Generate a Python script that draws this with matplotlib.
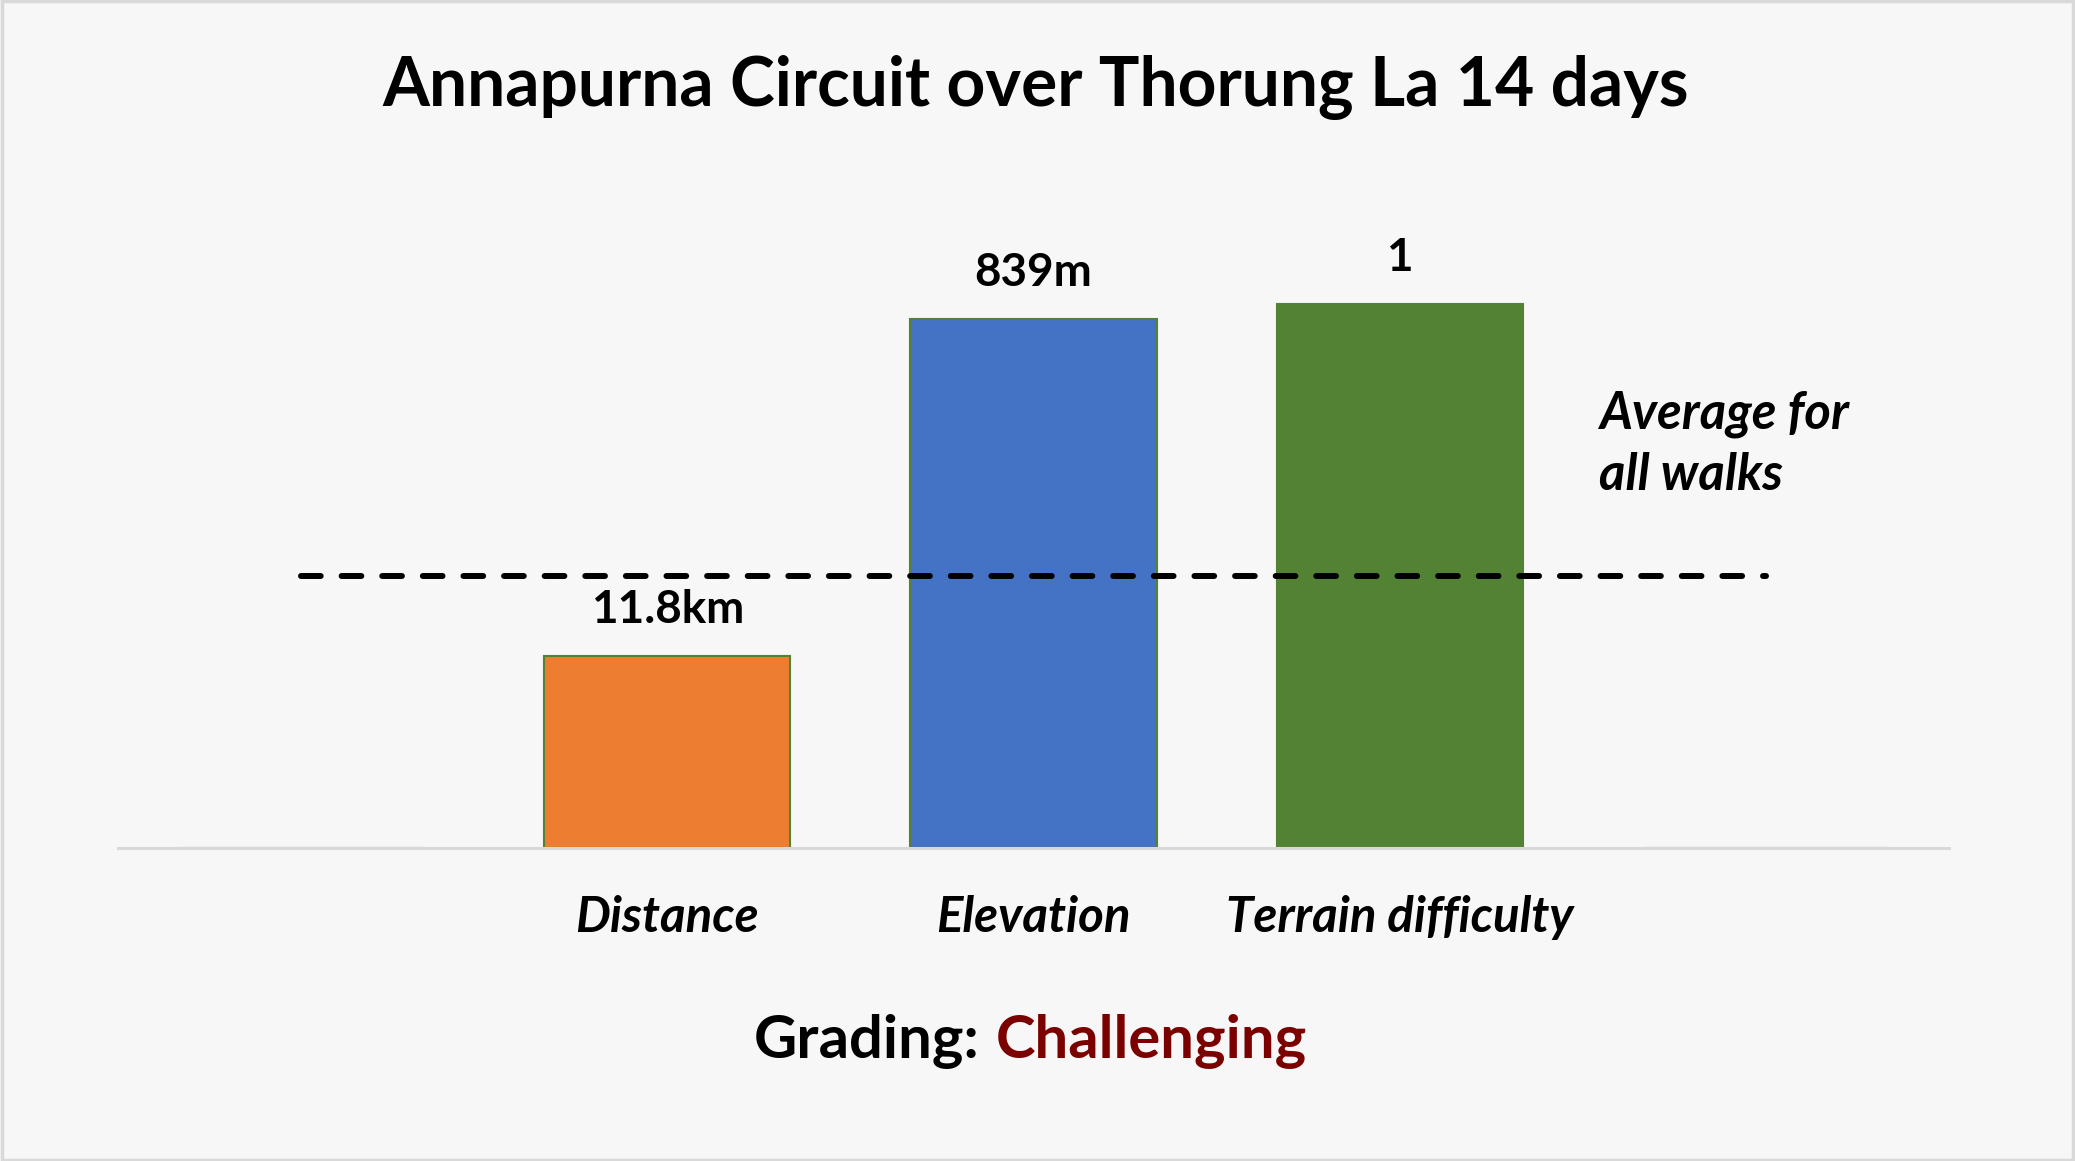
import matplotlib
matplotlib.use("Agg")
import matplotlib.pyplot as plt
from matplotlib.patches import Rectangle

# ---- data ----
title = "Annapurna Circuit over Thorung La 14 days"
categories = ["", "Distance", "Elevation", "Terrain difficulty", ""]
bar_values = [0.0, 0.706, 1.945, 2.0, 0.0]          # relative to the all-walks average
bar_labels = ["", "11.8km", "839m", "1", ""]
bar_colors = ["#ED7D31", "#ED7D31", "#4472C4", "#548235", "#548235"]
average_values = [1.0, 1.0, 1.0, 1.0, 1.0]
average_lines = ["Average for", "all walks"]
grading_prefix = "Grading:"
grading_value = "Challenging"

W, H = 2075, 1161
DPI = 100
FONT = ["Lato", "DejaVu Sans"]
BG = "#F7F7F7"

fig = plt.figure(figsize=(W / DPI, H / DPI), dpi=DPI, facecolor=BG)

def fx(px):
    return px / W

def fy(py):
    return 1 - py / H

ymax = 2.5
ax_left, ax_right, ax_bottom = 118, 1949, 848
ax_top = ax_bottom - ymax * 272
ax = fig.add_axes([fx(ax_left), fy(ax_bottom), fx(ax_right - ax_left), (ax_bottom - ax_top) / H])
ax.set_facecolor(BG)

x = list(range(len(categories)))
ax.bar(x, bar_values, width=0.672, color=bar_colors, edgecolor="#548235",
       linewidth=1.5, zorder=2)
ax.plot(x, average_values, color="black", linewidth=4.3, linestyle=(0, (3.3, 3.5)),
        dash_capstyle="round", zorder=3)

ax.set_xlim(-0.5, len(categories) - 0.5)
ax.set_ylim(0, ymax)
for s in ["top", "right", "left"]:
    ax.spines[s].set_visible(False)
ax.spines["bottom"].set_color("#D9D9D9")
ax.spines["bottom"].set_linewidth(2.2)
ax.set_yticks([])
ax.set_xticks(x)
ax.set_xticklabels(categories, fontfamily=FONT, fontweight="bold", fontstyle="italic",
                   fontsize=35.5)
ax.tick_params(axis="x", length=0, pad=34)

# value labels
for xi, v, lab in zip(x, bar_values, bar_labels):
    if lab:
        ax.annotate(lab, (xi, v), xytext=(0, 24), textcoords="offset points",
                    ha="center", va="baseline", fontfamily=FONT, fontweight="bold",
                    fontsize=33, color="black")

# average annotation
for i, line in enumerate(average_lines):
    fig.text(fx(1599), fy(428 + 62 * i), line, ha="left", va="baseline", fontfamily=FONT,
             fontweight="bold", fontstyle="italic", fontsize=36.5)

# title
fig.text(fx(1036), fy(106), title, ha="center", va="baseline", fontfamily=FONT,
         fontweight="bold", fontsize=48.7)

# grading
fig.text(fx(980), fy(1058), grading_prefix, ha="right", va="baseline", fontfamily=FONT,
         fontweight="bold", fontsize=43, color="black")
fig.text(fx(996), fy(1058), grading_value, ha="left", va="baseline", fontfamily=FONT,
         fontweight="bold", fontsize=43, color="#7B0000")

# figure border
fig.patches.append(Rectangle((0.0008, 0.0012), 0.9984, 0.9976, transform=fig.transFigure,
                             fill=False, edgecolor="#D9D9D9", linewidth=2.5))

fig.savefig("out.png", dpi=DPI, facecolor=BG)
